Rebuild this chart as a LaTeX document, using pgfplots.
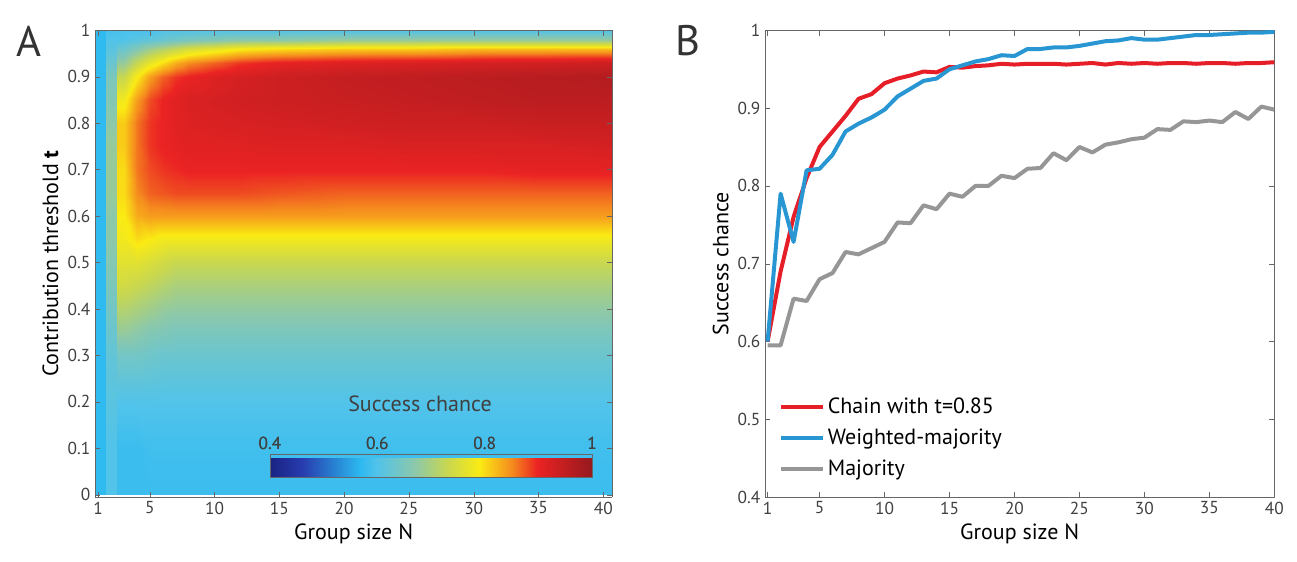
\documentclass[border=0pt]{standalone}
\usepackage{pgfplots}
\pgfplotsset{compat=1.18}
\usepackage{fontspec}
\setmainfont{PT Sans}
\definecolor{cred}{RGB}{230,30,40}
\definecolor{cblue}{RGB}{40,150,210}
\definecolor{cgray}{RGB}{150,150,150}
\pgfplotsset{colormap={mjet}{rgb255(0)=(25,35,130) rgb255(10)=(40,60,175) rgb255(20)=(40,130,210) rgb255(28)=(45,185,240) rgb255(33)=(80,195,235) rgb255(45)=(140,200,170) rgb255(55)=(200,215,80) rgb255(65)=(250,235,20) rgb255(75)=(245,140,30) rgb255(83)=(235,35,35) rgb255(100)=(150,25,30)}}
\begin{document}
\begin{tikzpicture}
\path (0,0) rectangle (972.75pt,420.75pt);
\pgfplotsset{every axis/.append style={
  scale only axis, font=\fontsize{13}{15}\selectfont,
  /pgf/number format/assume math mode=true,
  label style={font=\fontsize{16.5}{19}\selectfont},
  axis line style={gray!80!black}, tick style={gray!80!black, major tick length=4pt},
  ticklabel style={text=black!75}}}
\begin{axis}[at={(71.25pt,48pt)}, anchor=south west, width=388pt, height=350pt,
  view={0}{90},
  xmin=0.77, xmax=40.7, ymin=-0.005, ymax=1,
  xtick={1,5,10,15,20,25,30,35,40}, ytick={0,0.1,...,1.01},
  yticklabels={0,0.1,0.2,0.3,0.4,0.5,0.6,0.7,0.8,0.9,1},
  xlabel={Group size N}, ylabel={Contribution threshold \textbf{t}},
  colormap name=mjet, point meta min=0.4, point meta max=1, axis on top]
\addplot3[surf, shader=interp, mesh/cols=19] coordinates {
(0.5,0,0.57) (1.6,0,0.57) (1.6,0,0.6) (2.5,0,0.6) (2.5,0,0.58) (3,0,0.58) (4,0,0.58) (5,0,0.58) (6,0,0.58) (7,0,0.58) (8,0,0.58) (10,0,0.58) (12,0,0.58) (15,0,0.58) (20,0,0.58) (25,0,0.58) (30,0,0.58) (35,0,0.58) (40.7,0,0.58)

(0.5,0.1,0.57) (1.6,0.1,0.57) (1.6,0.1,0.6) (2.5,0.1,0.6) (2.5,0.1,0.58) (3,0.1,0.58) (4,0.1,0.58) (5,0.1,0.585) (6,0.1,0.585) (7,0.1,0.585) (8,0.1,0.585) (10,0.1,0.585) (12,0.1,0.585) (15,0.1,0.585) (20,0.1,0.585) (25,0.1,0.585) (30,0.1,0.585) (35,0.1,0.585) (40.7,0.1,0.585)

(0.5,0.2,0.57) (1.6,0.2,0.57) (1.6,0.2,0.61) (2.5,0.2,0.61) (2.5,0.2,0.6) (3,0.2,0.6) (4,0.2,0.6) (5,0.2,0.6) (6,0.2,0.6) (7,0.2,0.6) (8,0.2,0.6) (10,0.2,0.6) (12,0.2,0.6) (15,0.2,0.6) (20,0.2,0.6) (25,0.2,0.6) (30,0.2,0.6) (35,0.2,0.6) (40.7,0.2,0.6)

(0.5,0.3,0.57) (1.6,0.3,0.57) (1.6,0.3,0.62) (2.5,0.3,0.62) (2.5,0.3,0.64) (3,0.3,0.64) (4,0.3,0.64) (5,0.3,0.635) (6,0.3,0.63) (7,0.3,0.63) (8,0.3,0.63) (10,0.3,0.63) (12,0.3,0.63) (15,0.3,0.63) (20,0.3,0.63) (25,0.3,0.63) (30,0.3,0.63) (35,0.3,0.63) (40.7,0.3,0.63)

(0.5,0.35,0.57) (1.6,0.35,0.57) (1.6,0.35,0.63) (2.5,0.35,0.63) (2.5,0.35,0.68) (3,0.35,0.68) (4,0.35,0.67) (5,0.35,0.66) (6,0.35,0.655) (7,0.35,0.65) (8,0.35,0.65) (10,0.35,0.65) (12,0.35,0.65) (15,0.35,0.65) (20,0.35,0.65) (25,0.35,0.65) (30,0.35,0.65) (35,0.35,0.65) (40.7,0.35,0.65)

(0.5,0.4,0.57) (1.6,0.4,0.57) (1.6,0.4,0.64) (2.5,0.4,0.64) (2.5,0.4,0.71) (3,0.4,0.71) (4,0.4,0.7) (5,0.4,0.69) (6,0.4,0.68) (7,0.4,0.675) (8,0.4,0.675) (10,0.4,0.675) (12,0.4,0.675) (15,0.4,0.675) (20,0.4,0.675) (25,0.4,0.675) (30,0.4,0.675) (35,0.4,0.675) (40.7,0.4,0.675)

(0.5,0.45,0.57) (1.6,0.45,0.57) (1.6,0.45,0.65) (2.5,0.45,0.65) (2.5,0.45,0.74) (3,0.45,0.74) (4,0.45,0.73) (5,0.45,0.72) (6,0.45,0.71) (7,0.45,0.7) (8,0.45,0.7) (10,0.45,0.7) (12,0.45,0.7) (15,0.45,0.7) (20,0.45,0.7) (25,0.45,0.7) (30,0.45,0.7) (35,0.45,0.7) (40.7,0.45,0.7)

(0.5,0.5,0.57) (1.6,0.5,0.57) (1.6,0.5,0.66) (2.5,0.5,0.66) (2.5,0.5,0.76) (3,0.5,0.76) (4,0.5,0.76) (5,0.5,0.75) (6,0.5,0.74) (7,0.5,0.73) (8,0.5,0.73) (10,0.5,0.73) (12,0.5,0.73) (15,0.5,0.73) (20,0.5,0.73) (25,0.5,0.73) (30,0.5,0.73) (35,0.5,0.73) (40.7,0.5,0.73)

(0.5,0.55,0.57) (1.6,0.55,0.57) (1.6,0.55,0.67) (2.5,0.55,0.67) (2.5,0.55,0.78) (3,0.55,0.78) (4,0.55,0.8) (5,0.55,0.79) (6,0.55,0.78) (7,0.55,0.78) (8,0.55,0.78) (10,0.55,0.78) (12,0.55,0.78) (15,0.55,0.78) (20,0.55,0.78) (25,0.55,0.78) (30,0.55,0.78) (35,0.55,0.78) (40.7,0.55,0.78)

(0.5,0.6,0.57) (1.6,0.6,0.57) (1.6,0.6,0.67) (2.5,0.6,0.67) (2.5,0.6,0.79) (3,0.6,0.79) (4,0.6,0.83) (5,0.6,0.84) (6,0.6,0.84) (7,0.6,0.84) (8,0.6,0.84) (10,0.6,0.84) (12,0.6,0.84) (15,0.6,0.84) (20,0.6,0.84) (25,0.6,0.84) (30,0.6,0.84) (35,0.6,0.84) (40.7,0.6,0.84)

(0.5,0.65,0.57) (1.6,0.65,0.57) (1.6,0.65,0.68) (2.5,0.65,0.68) (2.5,0.65,0.8) (3,0.65,0.8) (4,0.65,0.85) (5,0.65,0.87) (6,0.65,0.875) (7,0.65,0.88) (8,0.65,0.88) (10,0.65,0.88) (12,0.65,0.88) (15,0.65,0.875) (20,0.65,0.87) (25,0.65,0.87) (30,0.65,0.87) (35,0.65,0.87) (40.7,0.65,0.87)

(0.5,0.7,0.57) (1.6,0.7,0.57) (1.6,0.7,0.68) (2.5,0.7,0.68) (2.5,0.7,0.8) (3,0.7,0.8) (4,0.7,0.86) (5,0.7,0.88) (6,0.7,0.89) (7,0.7,0.895) (8,0.7,0.9) (10,0.7,0.9) (12,0.7,0.9) (15,0.7,0.9) (20,0.7,0.9) (25,0.7,0.9) (30,0.7,0.9) (35,0.7,0.905) (40.7,0.7,0.905)

(0.5,0.75,0.57) (1.6,0.75,0.57) (1.6,0.75,0.68) (2.5,0.75,0.68) (2.5,0.75,0.81) (3,0.75,0.81) (4,0.75,0.86) (5,0.75,0.89) (6,0.75,0.9) (7,0.75,0.905) (8,0.75,0.91) (10,0.75,0.91) (12,0.75,0.912) (15,0.75,0.915) (20,0.75,0.915) (25,0.75,0.92) (30,0.75,0.92) (35,0.75,0.92) (40.7,0.75,0.925)

(0.5,0.8,0.57) (1.6,0.8,0.57) (1.6,0.8,0.67) (2.5,0.8,0.67) (2.5,0.8,0.81) (3,0.8,0.81) (4,0.8,0.86) (5,0.8,0.89) (6,0.8,0.9) (7,0.8,0.91) (8,0.8,0.915) (10,0.8,0.92) (12,0.8,0.922) (15,0.8,0.925) (20,0.8,0.93) (25,0.8,0.935) (30,0.8,0.935) (35,0.8,0.94) (40.7,0.8,0.94)

(0.5,0.85,0.57) (1.6,0.85,0.57) (1.6,0.85,0.66) (2.5,0.85,0.66) (2.5,0.85,0.78) (3,0.85,0.78) (4,0.85,0.84) (5,0.85,0.88) (6,0.85,0.9) (7,0.85,0.91) (8,0.85,0.92) (10,0.85,0.925) (12,0.85,0.93) (15,0.85,0.935) (20,0.85,0.94) (25,0.85,0.945) (30,0.85,0.95) (35,0.85,0.955) (40.7,0.85,0.955)

(0.5,0.9,0.57) (1.6,0.9,0.57) (1.6,0.9,0.65) (2.5,0.9,0.65) (2.5,0.9,0.73) (3,0.9,0.73) (4,0.9,0.79) (5,0.9,0.84) (6,0.9,0.87) (7,0.9,0.89) (8,0.9,0.9) (10,0.9,0.915) (12,0.9,0.925) (15,0.9,0.935) (20,0.9,0.945) (25,0.9,0.95) (30,0.9,0.955) (35,0.9,0.96) (40.7,0.9,0.965)

(0.5,0.93,0.57) (1.6,0.93,0.57) (1.6,0.93,0.63) (2.5,0.93,0.63) (2.5,0.93,0.68) (3,0.93,0.68) (4,0.93,0.73) (5,0.93,0.77) (6,0.93,0.8) (7,0.93,0.83) (8,0.93,0.85) (10,0.93,0.87) (12,0.93,0.89) (15,0.93,0.905) (20,0.93,0.915) (25,0.93,0.92) (30,0.93,0.925) (35,0.93,0.93) (40.7,0.93,0.935)

(0.5,0.96,0.57) (1.6,0.96,0.57) (1.6,0.96,0.61) (2.5,0.96,0.61) (2.5,0.96,0.63) (3,0.96,0.63) (4,0.96,0.66) (5,0.96,0.69) (6,0.96,0.71) (7,0.96,0.73) (8,0.96,0.75) (10,0.96,0.77) (12,0.96,0.79) (15,0.96,0.8) (20,0.96,0.81) (25,0.96,0.81) (30,0.96,0.82) (35,0.96,0.82) (40.7,0.96,0.82)

(0.5,0.98,0.57) (1.6,0.98,0.57) (1.6,0.98,0.6) (2.5,0.98,0.6) (2.5,0.98,0.6) (3,0.98,0.6) (4,0.98,0.61) (5,0.98,0.62) (6,0.98,0.63) (7,0.98,0.64) (8,0.98,0.65) (10,0.98,0.66) (12,0.98,0.67) (15,0.98,0.67) (20,0.98,0.68) (25,0.98,0.68) (30,0.98,0.68) (35,0.98,0.68) (40.7,0.98,0.68)

(0.5,1,0.57) (1.6,1,0.57) (1.6,1,0.59) (2.5,1,0.59) (2.5,1,0.59) (3,1,0.59) (4,1,0.59) (5,1,0.59) (6,1,0.6) (7,1,0.6) (8,1,0.6) (10,1,0.6) (12,1,0.6) (15,1,0.6) (20,1,0.6) (25,1,0.6) (30,1,0.6) (35,1,0.6) (40.7,1,0.6)
};
\end{axis}
\pgfplotscolorbardrawstandalone[colormap name=mjet, point meta min=0.4, point meta max=1,
  colorbar horizontal, colorbar style={at={(202.5pt,71.25pt)}, anchor=south west,
  width=241.5pt, height=17.25pt, xtick={0.4,0.6,0.8,1}, xticklabels={0.4,0.6,0.8,1},
  xticklabel pos=upper, tick style={draw=none}, axis line style={gray!80!black},
  ticklabel style={font=\fontsize{13}{15}\selectfont, text=black!75}}]
\node[font=\fontsize{16.5}{19}\selectfont, text=black!75] at (315pt,118pt) {Success chance};
\node[font=\fontsize{32}{36}\selectfont, text=black!80] at (22pt,390pt) {A};
\node[font=\fontsize{32}{36}\selectfont, text=black!80] at (516pt,390pt) {B};
\begin{axis}[at={(573.75pt,48pt)}, anchor=south west, width=382pt, height=350pt,
  xmin=0.8, xmax=40, ymin=0.4, ymax=1,
  xtick={1,5,10,15,20,25,30,35,40}, ytick={0.4,0.5,...,1.01},
  yticklabels={0.4,0.5,0.6,0.7,0.8,0.9,1},
  xlabel={Group size N}, ylabel={Success chance},
  legend style={at={(0.02,0.03)}, anchor=south west, draw=none, fill=none,
    font=\fontsize{16.5}{19}\selectfont, row sep=6pt},
  legend cell align=left,
  legend image code/.code={\draw[#1] (0,0) -- (1.1cm,0);},
  line join=round]
\addplot[cred, line width=3pt] coordinates {(1,0.60) (2,0.69) (3,0.76) (4,0.81) (5,0.85) (6,0.87) (7,0.89) (8,0.912) (9,0.918) (10,0.932) (11,0.938) (12,0.942) (13,0.947) (14,0.946) (15,0.953) (16,0.952) (17,0.954) (18,0.955) (19,0.957) (20,0.956) (21,0.957) (22,0.957) (23,0.957) (24,0.956) (25,0.957) (26,0.958) (27,0.956) (28,0.958) (29,0.957) (30,0.958) (31,0.957) (32,0.958) (33,0.958) (34,0.957) (35,0.958) (36,0.958) (37,0.957) (38,0.958) (39,0.958) (40,0.959)};
\addlegendentry{Chain with t=0.85}
\addplot[cblue, line width=3pt] coordinates {(1,0.60) (2,0.79) (3,0.728) (4,0.82) (5,0.822) (6,0.84) (7,0.87) (8,0.88) (9,0.888) (10,0.898) (11,0.915) (12,0.925) (13,0.935) (14,0.938) (15,0.95) (16,0.955) (17,0.96) (18,0.963) (19,0.968) (20,0.967) (21,0.976) (22,0.976) (23,0.978) (24,0.978) (25,0.98) (26,0.983) (27,0.986) (28,0.987) (29,0.99) (30,0.988) (31,0.988) (32,0.99) (33,0.992) (34,0.994) (35,0.994) (36,0.995) (37,0.996) (38,0.997) (39,0.997) (40,0.998)};
\addlegendentry{Weighted-majority}
\addplot[cgray, line width=3pt] coordinates {(1,0.595) (2,0.595) (3,0.655) (4,0.652) (5,0.68) (6,0.688) (7,0.715) (8,0.712) (9,0.72) (10,0.728) (11,0.753) (12,0.752) (13,0.775) (14,0.77) (15,0.79) (16,0.786) (17,0.8) (18,0.8) (19,0.813) (20,0.81) (21,0.822) (22,0.823) (23,0.842) (24,0.833) (25,0.85) (26,0.843) (27,0.853) (28,0.856) (29,0.86) (30,0.862) (31,0.873) (32,0.872) (33,0.883) (34,0.882) (35,0.884) (36,0.882) (37,0.895) (38,0.886) (39,0.902) (40,0.898)};
\addlegendentry{Majority}
\end{axis}
\end{tikzpicture}
\end{document}
